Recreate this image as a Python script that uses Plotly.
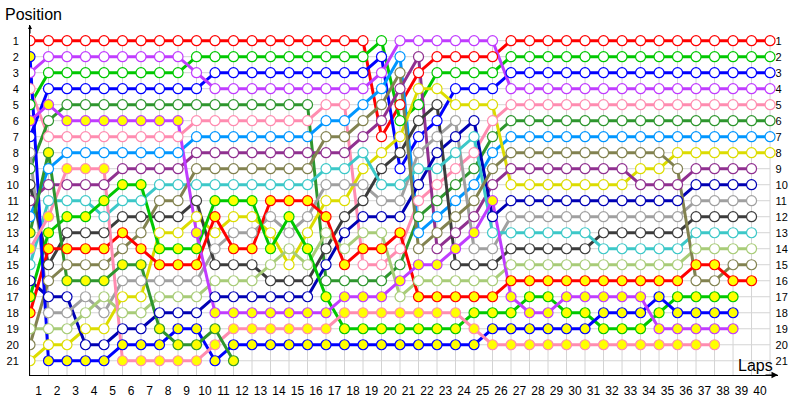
import plotly.graph_objects as go

# lap chart: running order of 21 cars, lap 0 = grid
LAPS = list(range(0, 41))
LAP_LABELS = list(range(1, 41))
POSITIONS = list(range(1, 22))
N = None

# position per lap (index = lap number, None = no longer classified)
POS_RED = [1, 1, 1, 1, 1, 1, 1, 1, 1, 1, 1, 1, 1, 1, 1, 1, 1, 1, 1, 7,
           5, 3, 2, 2, 2, 2, 1, 1, 1, 1, 1, 1, 1, 1, 1, 1, 1, 1, 1, 1, 1]
POS_GREEN = [5, 3, 3, 3, 3, 3, 3, 3, 3, 2, 2, 2, 2, 2, 2, 2, 2, 2, 2, 1,
             6, 5, 3, 3, 3, 3, 2, 2, 2, 2, 2, 2, 2, 2, 2, 2, 2, 2, 2, 2, 2]
POS_BLUE = [7, 4, 4, 4, 4, 4, 4, 4, 4, 4, 3, 3, 3, 3, 3, 3, 3, 3, 3, 2,
            9, 7, 6, 4, 4, 4, 3, 3, 3, 3, 3, 3, 3, 3, 3, 3, 3, 3, 3, 3, 3]
POS_VIOLET = [3, 2, 2, 2, 2, 2, 2, 2, 2, 3, 4, 4, 4, 4, 4, 4, 4, 4, 4, 3,
              1, 1, 1, 1, 1, 1, 4, 4, 4, 4, 4, 4, 4, 4, 4, 4, 4, 4, 4, 4, 4]
POS_PINK = [4, 7, 7, 7, 7, 7, 7, 7, 7, 6, 6, 6, 6, 6, 6, 6, 5, 5, 15, 15,
            14, 11, 10, 9, 8, 6, 5, 5, 5, 5, 5, 5, 5, 5, 5, 5, 5, 5, 5, 5, 5]
POS_DKGREEN = [9, 6, 5, 5, 5, 5, 5, 5, 5, 5, 5, 5, 5, 5, 5, 5, 16, 16, 16, 16,
               15, 12, 11, 10, 9, 7, 6, 6, 6, 6, 6, 6, 6, 6, 6, 6, 6, 6, 6, 6, 6]
POS_SKYBLUE = [12, 9, 8, 8, 8, 8, 8, 8, 8, 7, 7, 7, 7, 7, 7, 7, 6, 6, 5, 4,
               2, 13, 12, 11, 10, 8, 7, 7, 7, 7, 7, 7, 7, 7, 7, 7, 7, 7, 7, 7, 7]
POS_YELLOW = [21, 20, 20, 19, 19, 17, 17, 13, 13, 12, 13, 12, 12, 13, 15, 13, 11, 11, 9, 8,
              7, 4, 4, 5, 5, 5, 10, 10, 10, 10, 10, 10, 10, 9, 9, 8, 8, 8, 8, 8, 8]
POS_PURPLE = [11, 10, 10, 10, 10, 9, 9, 9, 9, 8, 8, 8, 8, 8, 8, 8, 8, 8, 7, 6,
              4, 2, 14, 13, 12, 10, 9, 9, 9, 9, 9, 9, 9, 10, 10, 10, 9, 9, 9, 9, N]
POS_DKBLUE = [16, 17, 17, 20, 20, 19, 19, 18, 18, 18, 17, 17, 17, 17, 17, 17, 15, 13, 12, 12,
              12, 10, 8, 7, 6, 12, 11, 11, 11, 11, 11, 11, 11, 11, 11, 11, 10, 10, 10, 10, N]
POS_GRAY = [8, 18, 18, 17, 18, 16, 16, 16, 16, 16, 14, 13, 13, 12, 13, 12, 10, 10, 10, 11,
            11, 8, 7, 6, 14, 14, 12, 12, 12, 12, 12, 12, 12, 12, 12, 12, 11, 11, 11, 11, N]
POS_DKGRAY = [10, 15, 13, 13, 13, 12, 12, 12, 12, 11, 15, 15, 15, 16, 16, 16, 14, 12, 11, 9,
              8, 6, 5, 15, 15, 15, 14, 14, 14, 14, 14, 13, 13, 13, 13, 13, 12, 12, 12, 12, N]
POS_CYAN = [15, 11, 11, 11, 12, 11, 11, 10, 10, 10, 10, 10, 10, 10, 10, 10, 9, 9, 8, 10,
            10, 9, 9, 8, 7, 13, 13, 13, 13, 13, 13, 14, 14, 14, 14, 14, 13, 13, 13, 13, N]
POS_LTGREEN = [19, 19, 19, 18, 17, 18, 18, 17, 17, 17, 16, 16, 16, 15, 14, 15, 13, 14, 13, 13,
               17, 16, 16, 16, 16, 16, 15, 15, 15, 15, 15, 15, 15, 15, 15, 15, 14, 14, 14, 14, N]
POS_OLIVE = [20, 16, 15, 15, 15, 14, 13, 11, 11, 9, 9, 9, 9, 9, 9, 9, 7, 7, 6, 5,
             3, 14, 13, 12, 11, 9, 8, 8, 8, 8, 8, 8, 8, 8, 8, 9, 16, 16, 15, 15, N]
POS_RED_B = [18, 14, 14, 14, 14, 13, 14, 15, 15, 15, 12, 14, 14, 11, 11, 11, 12, 15, 14, 14,
             13, 17, 17, 17, 17, 17, 16, 16, 16, 16, 16, 16, 16, 16, 16, 16, 15, 15, 16, 16, N]
POS_GREEN_B = [17, 13, 12, 12, 11, 10, 10, 14, 14, 14, 11, 11, 11, 14, 12, 14, 17, 19, 19, 19,
               19, 19, 19, 19, 18, 18, 18, 17, 17, 18, 18, 19, 19, 19, 18, 17, 17, 17, 17, N, N]
POS_BLUE_B = [2, 21, 21, 21, 21, 20, 20, 20, 19, 19, 21, 20, 20, 20, 20, 20, 20, 20, 20, 20,
              20, 20, 20, 20, 20, 19, 19, 19, 19, 19, 19, 18, 18, 18, 17, 18, 18, 18, 18, N, N]
POS_VIOLET_B = [6, 5, 6, 6, 6, 6, 6, 6, 6, 13, 18, 18, 18, 18, 18, 18, 18, 17, 17, 17,
                16, 15, 15, 14, 13, 11, 17, 18, 18, 17, 17, 17, 17, 17, 19, 19, 19, 19, 19, N, N]
POS_PINK_B = [14, 12, 9, 9, 9, 21, 21, 21, 21, 21, 20, 19, 19, 19, 19, 19, 19, 18, 18, 18,
              18, 18, 18, 18, 19, 20, 20, 20, 20, 20, 20, 20, 20, 20, 20, 20, 20, 20, N, N, N]
POS_DKGREEN_B = [13, 8, 16, 16, 16, 15, 15, 19, 20, 20, 19, 21, N, N, N, N, N, N, N, N,
                 N, N, N, N, N, N, N, N, N, N, N, N, N, N, N, N, N, N, N, N, N]

# (series, line colour, second-team car -> yellow marker)
CARS = [
    (POS_RED, "#ff0000", False),
    (POS_GREEN, "#00c800", False),
    (POS_BLUE, "#0000ff", False),
    (POS_VIOLET, "#c03cff", False),
    (POS_PINK, "#ff8cb0", False),
    (POS_DKGREEN, "#2e962e", False),
    (POS_SKYBLUE, "#0096ff", False),
    (POS_YELLOW, "#dcdc00", False),
    (POS_PURPLE, "#903090", False),
    (POS_DKBLUE, "#0000b4", False),
    (POS_GRAY, "#a0a0a0", False),
    (POS_DKGRAY, "#3c3c3c", False),
    (POS_CYAN, "#3cc8c8", False),
    (POS_LTGREEN, "#a8cc78", False),
    (POS_OLIVE, "#828250", False),
    (POS_RED_B, "#ff0000", True),
    (POS_GREEN_B, "#00c800", True),
    (POS_BLUE_B, "#0000ff", True),
    (POS_VIOLET_B, "#c03cff", True),
    (POS_PINK_B, "#ff8cb0", True),
    (POS_DKGREEN_B, "#2e962e", True),
]

FONT = "Liberation Sans"
GRID = "#d4d4d4"
Y_BOTTOM, Y_TOP = 21.89, 0.02
X_MAX = 40.43

fig = go.Figure()

# lines first so every marker sits on top
for pos, col, _ in CARS:
    fig.add_trace(go.Scatter(x=LAPS, y=pos, mode="lines",
                             line=dict(color=col, width=3),
                             hoverinfo="skip", showlegend=False))
for pos, col, second in CARS:
    fig.add_trace(go.Scatter(x=LAPS, y=pos, mode="markers",
                             marker=dict(size=10, color="#ffff00" if second else "white",
                                         line=dict(color=col, width=1.2)),
                             hoverinfo="skip", showlegend=False))

# dummy trace so the right-hand axis is drawn
fig.add_trace(go.Scatter(x=[0], y=[1], yaxis="y2", mode="markers",
                         marker=dict(opacity=0), hoverinfo="skip", showlegend=False))

shapes = []
for lap in LAPS:
    shapes.append(dict(type="line", xref="x", yref="y", x0=lap, x1=lap, y0=0.8, y1=Y_BOTTOM,
                       line=dict(color=GRID, width=1), layer="below"))
for p in POSITIONS:
    shapes.append(dict(type="line", xref="x", yref="y", x0=0, x1=40, y0=p, y1=p,
                       line=dict(color=GRID, width=1), layer="below"))

annotations = [
    dict(text="Position", xref="paper", yref="paper", x=-0.036, y=1.029,
         xanchor="left", yanchor="middle", showarrow=False,
         font=dict(family=FONT, size=16, color="black")),
    dict(text="Laps", xref="paper", yref="paper", x=0.996, y=0.027,
         xanchor="right", yanchor="middle", showarrow=False,
         font=dict(family=FONT, size=16, color="black")),
    # axis arrows
    dict(text="", xref="paper", yref="paper", x=1, y=0, ax=-14, ay=0,
         showarrow=True, arrowhead=2, arrowsize=1.3, arrowwidth=1, arrowcolor="black"),
    dict(text="", xref="paper", yref="paper", x=0, y=1, ax=0, ay=10,
         showarrow=True, arrowhead=2, arrowsize=0.8, arrowwidth=1, arrowcolor="black"),
]

fig.update_layout(
    width=800, height=400,
    margin=dict(l=30, r=22, t=25, b=25, autoexpand=False),
    paper_bgcolor="white", plot_bgcolor="white",
    showlegend=False, hovermode=False,
    font=dict(family=FONT, size=12, color="black"),
    shapes=shapes, annotations=annotations,
    xaxis=dict(range=[0, X_MAX], showgrid=False, zeroline=False,
               showline=True, linecolor="black", linewidth=1,
               tickvals=LAP_LABELS, ticktext=[str(v) for v in LAP_LABELS],
               ticks="", ticklabelshift=-10, ticklabelstandoff=5,
               tickfont=dict(family=FONT, size=12, color="black")),
    yaxis=dict(range=[Y_BOTTOM, Y_TOP], showgrid=False, zeroline=False,
               showline=True, linecolor="black", linewidth=1,
               tickvals=POSITIONS, ticks="", ticklabelstandoff=8,
               tickfont=dict(family=FONT, size=11, color="black")),
    yaxis2=dict(range=[Y_BOTTOM, Y_TOP], overlaying="y", anchor="free", position=0.99,
                side="right", showgrid=False, zeroline=False, showline=False,
                tickvals=POSITIONS, ticks="", ticklabelstandoff=4,
                tickfont=dict(family=FONT, size=11, color="black")),
)

# the page body has a default 8px margin; drop it so the figure fills the window
fig.write_html("out.html", config={"displayModeBar": False},
               post_script="document.body.style.margin='0px';")
